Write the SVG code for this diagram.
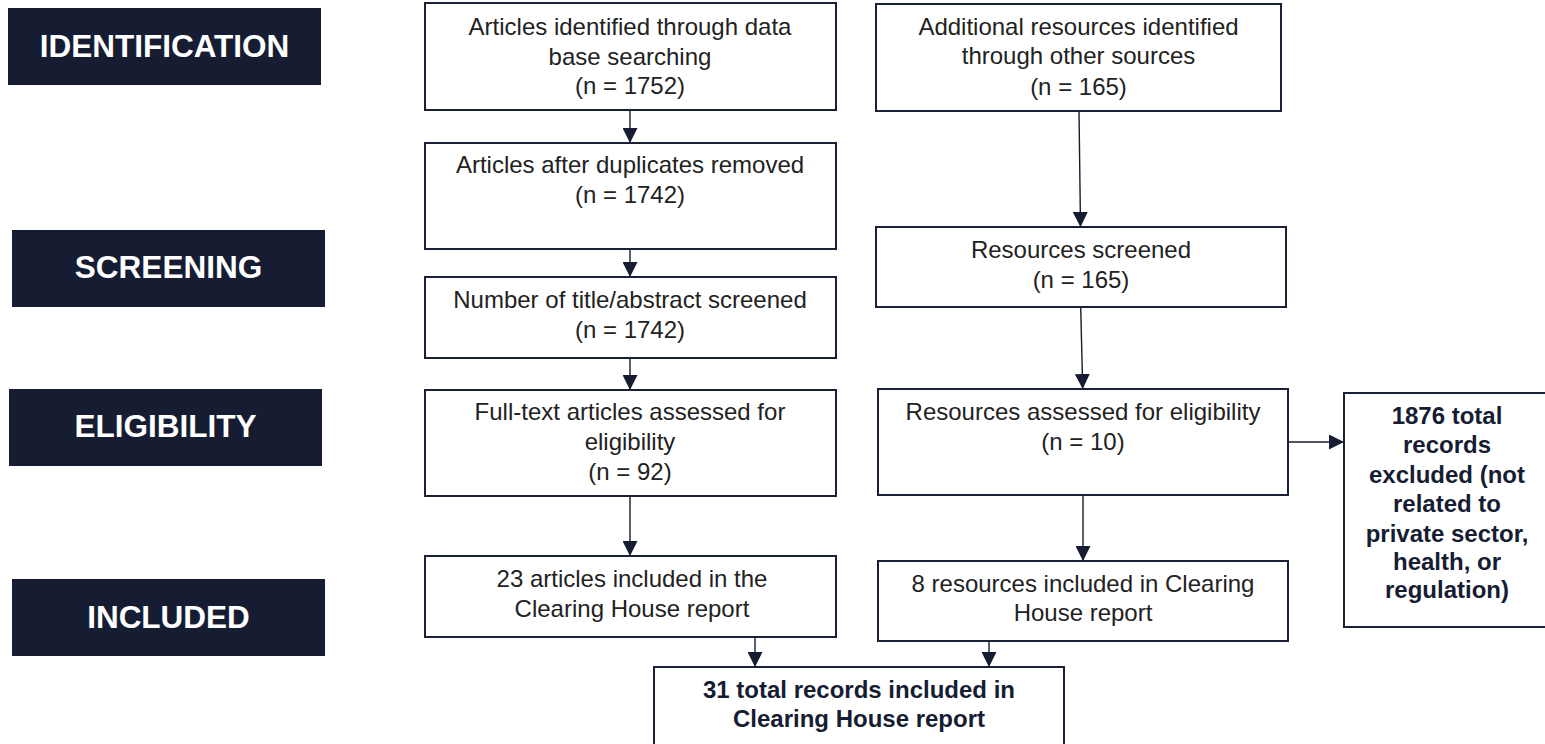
<svg xmlns="http://www.w3.org/2000/svg" width="1545" height="744" viewBox="0 0 1545 744">
<style>
.lab{fill:#161d33}
.labt{font-family:"Liberation Sans",Arial,sans-serif;font-weight:bold;font-size:31.5px;fill:#ffffff;text-anchor:middle}
.box{fill:#ffffff;stroke:#1a2035;stroke-width:2}
.t{font-family:"Liberation Sans",Arial,sans-serif;font-size:24px;fill:#222222;text-anchor:middle}
.tb{font-family:"Liberation Sans",Arial,sans-serif;font-size:24px;font-weight:bold;fill:#161d33;text-anchor:middle}
.c{stroke:#161d33;stroke-width:1.4;fill:none;marker-end:url(#ah)}
</style>
<defs>
<marker id="ah" markerUnits="userSpaceOnUse" markerWidth="15" markerHeight="15" refX="15" refY="7.5" orient="auto" viewBox="0 0 15 15">
<path d="M0,0 L15,7.5 L0,15 z" fill="#161d33"/>
</marker>
</defs>
<rect width="1545" height="744" fill="#ffffff"/>

<g id="label-identification"><rect class="lab" x="8" y="8" width="313" height="77"/><text class="labt" x="164.5" y="57">IDENTIFICATION</text></g>
<g id="label-screening"><rect class="lab" x="12" y="230" width="313" height="77"/><text class="labt" x="168.5" y="278">SCREENING</text></g>
<g id="label-eligibility"><rect class="lab" x="9" y="389" width="313" height="77"/><text class="labt" x="165.5" y="437">ELIGIBILITY</text></g>
<g id="label-included"><rect class="lab" x="12" y="579" width="313" height="77"/><text class="labt" x="168.5" y="628">INCLUDED</text></g>

<g id="connectors">
<line class="c" x1="630" y1="110" x2="630" y2="143"/>
<line class="c" x1="630" y1="249" x2="630" y2="277"/>
<line class="c" x1="630" y1="358" x2="630" y2="390"/>
<line class="c" x1="630" y1="496" x2="630" y2="556"/>
<line class="c" x1="1079" y1="111" x2="1080.5" y2="227"/>
<line class="c" x1="1080.7" y1="307" x2="1082.7" y2="389"/>
<line class="c" x1="1083" y1="495" x2="1083" y2="561"/>
<line class="c" x1="1288" y1="442" x2="1344" y2="442"/>
<line class="c" x1="755" y1="637" x2="755" y2="667"/>
<line class="c" x1="989" y1="636" x2="989" y2="667"/>
</g>

<g id="a1"><rect class="box" x="425" y="3" width="411" height="107"/>
<text class="t" x="630" y="35">Articles identified through data</text>
<text class="t" x="630" y="64.5">base searching</text>
<text class="t" x="630" y="94">(n = 1752)</text></g>

<g id="a2"><rect class="box" x="425" y="143" width="411" height="106"/>
<text class="t" x="630" y="173">Articles after duplicates removed</text>
<text class="t" x="630" y="202.5">(n = 1742)</text></g>

<g id="a3"><rect class="box" x="425" y="277" width="411" height="81"/>
<text class="t" x="630" y="308">Number of title/abstract screened</text>
<text class="t" x="630" y="338">(n = 1742)</text></g>

<g id="a4"><rect class="box" x="425" y="390" width="411" height="106"/>
<text class="t" x="630" y="420">Full-text articles assessed for</text>
<text class="t" x="630" y="450">eligibility</text>
<text class="t" x="630" y="480">(n = 92)</text></g>

<g id="a5"><rect class="box" x="425" y="556" width="411" height="81"/>
<text class="t" x="632" y="587">23 articles included in the</text>
<text class="t" x="632" y="616.5">Clearing House report</text></g>

<g id="b1"><rect class="box" x="876" y="4" width="405" height="107"/>
<text class="t" x="1078.5" y="35">Additional resources identified</text>
<text class="t" x="1078.5" y="63.5">through other sources</text>
<text class="t" x="1078.5" y="95">(n = 165)</text></g>

<g id="b2"><rect class="box" x="876" y="227" width="410" height="80"/>
<text class="t" x="1081" y="258">Resources screened</text>
<text class="t" x="1081" y="287.5">(n = 165)</text></g>

<g id="b3"><rect class="box" x="878" y="389" width="410" height="106"/>
<text class="t" x="1083" y="420">Resources assessed for eligibility</text>
<text class="t" x="1083" y="450">(n = 10)</text></g>

<g id="b4"><rect class="box" x="878" y="561" width="410" height="80"/>
<text class="t" x="1083" y="591.5">8 resources included in Clearing</text>
<text class="t" x="1083" y="621">House report</text></g>

<g id="excluded"><rect class="box" x="1344" y="393" width="210" height="234"/>
<text class="tb" x="1447" y="424">1876 total</text>
<text class="tb" x="1447" y="453">records</text>
<text class="tb" x="1447" y="483">excluded (not</text>
<text class="tb" x="1447" y="512">related to</text>
<text class="tb" x="1447" y="542">private sector,</text>
<text class="tb" x="1447" y="570">health, or</text>
<text class="tb" x="1447" y="598">regulation)</text></g>

<g id="total"><rect class="box" x="654" y="667" width="410" height="90"/>
<text class="tb" x="859" y="698">31 total records included in</text>
<text class="tb" x="859" y="727">Clearing House report</text></g>
</svg>
